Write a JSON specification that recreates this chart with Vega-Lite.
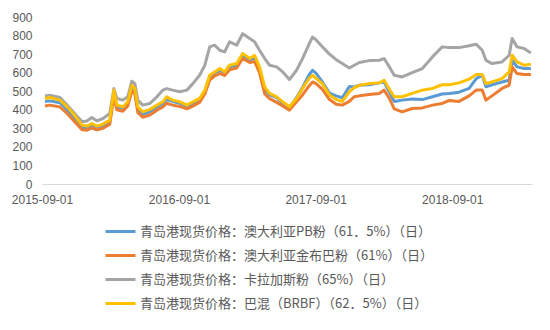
{
  "$schema": "https://vega.github.io/schema/vega-lite/v6.json",
  "width": 490,
  "height": 167,
  "autosize": {"type": "none"},
  "padding": {"left": 42, "top": 17, "right": 18, "bottom": 146},
  "background": "white",
  "config": {
    "view": {"stroke": null},
    "font": "Liberation Sans, Noto Sans CJK SC"
  },
  "data": {
    "values": [
      {"d": "2015-09-09", "kl": 475, "brbf": 461, "pb": 445, "jmb": 420},
      {"d": "2015-09-22", "kl": 479, "brbf": 466, "pb": 448, "jmb": 425},
      {"d": "2015-10-19", "kl": 466, "brbf": 452, "pb": 438, "jmb": 415},
      {"d": "2015-11-07", "kl": 425, "brbf": 416, "pb": 400, "jmb": 380},
      {"d": "2015-11-23", "kl": 389, "brbf": 380, "pb": 365, "jmb": 345},
      {"d": "2015-12-17", "kl": 335, "brbf": 317, "pb": 305, "jmb": 292},
      {"d": "2015-12-30", "kl": 340, "brbf": 312, "pb": 305, "jmb": 290},
      {"d": "2016-01-12", "kl": 358, "brbf": 326, "pb": 318, "jmb": 302},
      {"d": "2016-01-26", "kl": 340, "brbf": 312, "pb": 305, "jmb": 292},
      {"d": "2016-02-11", "kl": 353, "brbf": 323, "pb": 315, "jmb": 300},
      {"d": "2016-02-29", "kl": 380, "brbf": 344, "pb": 338, "jmb": 322},
      {"d": "2016-03-11", "kl": 514, "brbf": 506, "pb": 490, "jmb": 470},
      {"d": "2016-03-19", "kl": 461, "brbf": 425, "pb": 415, "jmb": 400},
      {"d": "2016-04-04", "kl": 452, "brbf": 416, "pb": 408, "jmb": 392},
      {"d": "2016-04-17", "kl": 470, "brbf": 443, "pb": 435, "jmb": 420},
      {"d": "2016-04-28", "kl": 554, "brbf": 532, "pb": 520, "jmb": 500},
      {"d": "2016-05-06", "kl": 541, "brbf": 514, "pb": 505, "jmb": 485},
      {"d": "2016-05-14", "kl": 452, "brbf": 416, "pb": 405, "jmb": 385},
      {"d": "2016-05-27", "kl": 425, "brbf": 389, "pb": 375, "jmb": 360},
      {"d": "2016-06-15", "kl": 434, "brbf": 402, "pb": 390, "jmb": 372},
      {"d": "2016-07-04", "kl": 470, "brbf": 425, "pb": 415, "jmb": 398},
      {"d": "2016-07-20", "kl": 506, "brbf": 443, "pb": 432, "jmb": 415},
      {"d": "2016-07-30", "kl": 514, "brbf": 470, "pb": 455, "jmb": 435},
      {"d": "2016-08-15", "kl": 506, "brbf": 452, "pb": 445, "jmb": 425},
      {"d": "2016-09-03", "kl": 497, "brbf": 443, "pb": 435, "jmb": 418},
      {"d": "2016-09-22", "kl": 506, "brbf": 425, "pb": 418, "jmb": 405},
      {"d": "2016-10-08", "kl": 541, "brbf": 443, "pb": 435, "jmb": 420},
      {"d": "2016-10-26", "kl": 586, "brbf": 461, "pb": 455, "jmb": 440},
      {"d": "2016-11-09", "kl": 640, "brbf": 506, "pb": 500, "jmb": 485},
      {"d": "2016-11-22", "kl": 739, "brbf": 586, "pb": 575, "jmb": 560},
      {"d": "2016-12-05", "kl": 748, "brbf": 604, "pb": 598, "jmb": 582},
      {"d": "2016-12-19", "kl": 721, "brbf": 622, "pb": 612, "jmb": 595},
      {"d": "2017-01-01", "kl": 712, "brbf": 604, "pb": 598, "jmb": 585},
      {"d": "2017-01-14", "kl": 766, "brbf": 640, "pb": 630, "jmb": 615},
      {"d": "2017-02-02", "kl": 748, "brbf": 649, "pb": 640, "jmb": 625},
      {"d": "2017-02-18", "kl": 810, "brbf": 703, "pb": 692, "jmb": 676},
      {"d": "2017-03-09", "kl": 784, "brbf": 676, "pb": 668, "jmb": 655},
      {"d": "2017-03-22", "kl": 766, "brbf": 694, "pb": 680, "jmb": 660},
      {"d": "2017-04-04", "kl": 721, "brbf": 631, "pb": 620, "jmb": 600},
      {"d": "2017-04-18", "kl": 676, "brbf": 523, "pb": 510, "jmb": 485},
      {"d": "2017-05-01", "kl": 640, "brbf": 488, "pb": 480, "jmb": 460},
      {"d": "2017-05-20", "kl": 631, "brbf": 470, "pb": 465, "jmb": 440},
      {"d": "2017-06-05", "kl": 604, "brbf": 443, "pb": 434, "jmb": 420},
      {"d": "2017-06-23", "kl": 563, "brbf": 416, "pb": 410, "jmb": 398},
      {"d": "2017-07-12", "kl": 613, "brbf": 461, "pb": 465, "jmb": 443},
      {"d": "2017-07-28", "kl": 676, "brbf": 515, "pb": 520, "jmb": 480},
      {"d": "2017-08-15", "kl": 757, "brbf": 570, "pb": 590, "jmb": 530},
      {"d": "2017-08-24", "kl": 792, "brbf": 586, "pb": 613, "jmb": 550},
      {"d": "2017-09-03", "kl": 775, "brbf": 568, "pb": 595, "jmb": 540},
      {"d": "2017-09-19", "kl": 740, "brbf": 541, "pb": 550, "jmb": 510},
      {"d": "2017-10-08", "kl": 700, "brbf": 480, "pb": 490, "jmb": 455},
      {"d": "2017-10-26", "kl": 670, "brbf": 455, "pb": 475, "jmb": 430},
      {"d": "2017-11-11", "kl": 649, "brbf": 445, "pb": 465, "jmb": 425},
      {"d": "2017-11-30", "kl": 625, "brbf": 497, "pb": 525, "jmb": 445},
      {"d": "2017-12-13", "kl": 640, "brbf": 520, "pb": 523, "jmb": 470},
      {"d": "2017-12-27", "kl": 655, "brbf": 532, "pb": 532, "jmb": 475},
      {"d": "2018-01-22", "kl": 665, "brbf": 541, "pb": 535, "jmb": 482},
      {"d": "2018-02-18", "kl": 667, "brbf": 545, "pb": 545, "jmb": 488},
      {"d": "2018-03-03", "kl": 676, "brbf": 559, "pb": 550, "jmb": 506},
      {"d": "2018-03-17", "kl": 631, "brbf": 510, "pb": 495, "jmb": 461},
      {"d": "2018-03-30", "kl": 586, "brbf": 470, "pb": 445, "jmb": 405},
      {"d": "2018-04-20", "kl": 577, "brbf": 470, "pb": 452, "jmb": 389},
      {"d": "2018-05-17", "kl": 600, "brbf": 488, "pb": 458, "jmb": 407},
      {"d": "2018-06-13", "kl": 622, "brbf": 506, "pb": 455, "jmb": 410},
      {"d": "2018-07-10", "kl": 685, "brbf": 515, "pb": 470, "jmb": 425},
      {"d": "2018-08-05", "kl": 739, "brbf": 535, "pb": 485, "jmb": 434},
      {"d": "2018-08-24", "kl": 735, "brbf": 535, "pb": 488, "jmb": 450},
      {"d": "2018-09-19", "kl": 735, "brbf": 545, "pb": 495, "jmb": 445},
      {"d": "2018-10-16", "kl": 745, "brbf": 565, "pb": 515, "jmb": 475},
      {"d": "2018-11-04", "kl": 753, "brbf": 590, "pb": 568, "jmb": 506},
      {"d": "2018-11-20", "kl": 721, "brbf": 590, "pb": 586, "jmb": 506},
      {"d": "2018-11-30", "kl": 667, "brbf": 541, "pb": 524, "jmb": 452},
      {"d": "2018-12-16", "kl": 649, "brbf": 550, "pb": 535, "jmb": 475},
      {"d": "2019-01-12", "kl": 658, "brbf": 568, "pb": 550, "jmb": 515},
      {"d": "2019-01-31", "kl": 694, "brbf": 604, "pb": 559, "jmb": 533},
      {"d": "2019-02-08", "kl": 784, "brbf": 694, "pb": 667, "jmb": 631},
      {"d": "2019-02-21", "kl": 739, "brbf": 658, "pb": 631, "jmb": 595},
      {"d": "2019-03-12", "kl": 730, "brbf": 640, "pb": 622, "jmb": 590},
      {"d": "2019-03-30", "kl": 706, "brbf": 645, "pb": 622, "jmb": 590}
    ]
  },
  "transform": [{"fold": ["pb", "jmb", "kl", "brbf"], "as": ["s", "v"]}],
  "mark": {"type": "line", "strokeWidth": 3, "strokeJoin": "round"},
  "encoding": {
    "x": {
      "field": "d",
      "type": "temporal",
      "scale": {"type": "utc", "domain": [{"year": 2015, "month": 9, "date": 1, "utc": true}, {"year": 2019, "month": 4, "date": 2, "utc": true}]},
      "axis": {
        "title": null,
        "values": [
          {"year": 2015, "month": 9, "date": 1, "utc": true},
          {"year": 2016, "month": 9, "date": 1, "utc": true},
          {"year": 2017, "month": 9, "date": 1, "utc": true},
          {"year": 2018, "month": 9, "date": 1, "utc": true}
        ],
        "format": "%Y-%m-%d",
        "grid": false,
        "ticks": false,
        "domainColor": "#D9D9D9",
        "domainWidth": 1,
        "labelColor": "#595959",
        "labelFontSize": 12,
        "labelPadding": 10,
        "labelFlush": false,
        "labelOverlap": false
      }
    },
    "y": {
      "field": "v",
      "type": "quantitative",
      "scale": {"domain": [0, 900], "nice": false},
      "axis": {
        "title": null,
        "values": [0, 100, 200, 300, 400, 500, 600, 700, 800, 900],
        "grid": false,
        "ticks": false,
        "domain": false,
        "labelColor": "#595959",
        "labelFontSize": 12,
        "labelPadding": 10
      }
    },
    "color": {
      "field": "s",
      "type": "nominal",
      "scale": {"domain": ["pb", "jmb", "kl", "brbf"], "range": ["#5B9BD5", "#ED7D31", "#A5A5A5", "#FFC000"]},
      "legend": {
        "title": null,
        "orient": "none",
        "legendX": 62,
        "legendY": 198,
        "direction": "vertical",
        "padding": 0,
        "symbolType": "stroke",
        "symbolSize": 900,
        "symbolStrokeWidth": 3,
        "rowPadding": -2.5,
        "labelOffset": 3,
        "labelFontSize": 13,
        "labelColor": "#595959",
        "labelFont": "Noto Sans CJK SC",
        "labelLimit": 400,
        "labelExpr": "datum.value == 'pb' ? '青岛港现货价格：澳大利亚PB粉（61．5%）（日）' : datum.value == 'jmb' ? '青岛港现货价格：澳大利亚金布巴粉（61%）（日）' : datum.value == 'kl' ? '青岛港现货价格：卡拉加斯粉（65%）（日）' : '青岛港现货价格：巴混（BRBF）（62．5%）（日）'"
      }
    }
  }
}
